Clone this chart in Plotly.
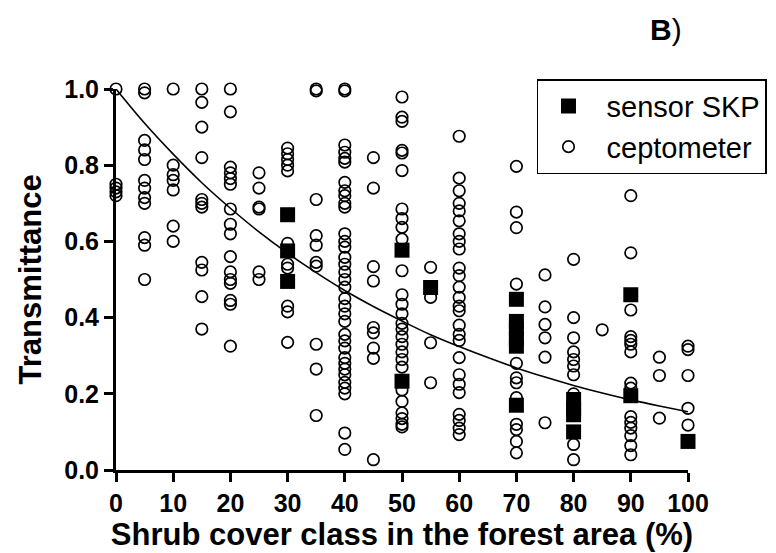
import plotly.graph_objects as go

# ---- data ----
cept_classes = [0, 5, 10, 15, 20, 25, 30, 35, 40, 45, 50, 55, 60, 70, 75, 80, 85, 90, 95, 100]
cept_values = [
    [1.0, 0.75, 0.74, 0.73, 0.72],
    [1.0, 0.99, 0.865, 0.84, 0.815, 0.76, 0.74, 0.715, 0.70, 0.61, 0.59, 0.50],
    [1.0, 0.80, 0.775, 0.76, 0.735, 0.64, 0.60],
    [1.0, 0.965, 0.90, 0.82, 0.71, 0.70, 0.69, 0.545, 0.525, 0.455, 0.37],
    [1.0, 0.94, 0.795, 0.78, 0.765, 0.75, 0.685, 0.645, 0.62, 0.56, 0.52, 0.50, 0.49, 0.445, 0.435, 0.325],
    [0.78, 0.74, 0.69, 0.685, 0.52, 0.50],
    [0.845, 0.83, 0.815, 0.80, 0.785, 0.595, 0.54, 0.53, 0.43, 0.415, 0.335],
    [1.0, 0.995, 0.71, 0.615, 0.59, 0.545, 0.535, 0.33, 0.265, 0.143],
    [1.0, 0.995, 0.853, 0.834, 0.818, 0.808, 0.755, 0.733, 0.72, 0.70, 0.69, 0.62, 0.60, 0.585,
     0.558, 0.54, 0.52, 0.50, 0.48, 0.45, 0.43, 0.41, 0.39, 0.356, 0.339, 0.32, 0.295, 0.28,
     0.265, 0.25, 0.23, 0.215, 0.20, 0.097, 0.054],
    [0.82, 0.74, 0.534, 0.496, 0.374, 0.36, 0.32, 0.293, 0.027],
    [0.979, 0.926, 0.915, 0.839, 0.832, 0.786, 0.685, 0.66, 0.637, 0.606, 0.523, 0.46, 0.435,
     0.41, 0.385, 0.37, 0.35, 0.33, 0.31, 0.29, 0.27, 0.21, 0.18, 0.15, 0.135, 0.12, 0.113],
    [0.532, 0.453, 0.334, 0.229],
    [0.876, 0.766, 0.733, 0.70, 0.68, 0.654, 0.62, 0.60, 0.58, 0.53, 0.51, 0.48, 0.453, 0.43,
     0.418, 0.38, 0.356, 0.34, 0.295, 0.25, 0.225, 0.203, 0.146, 0.13, 0.11, 0.093],
    [0.797, 0.677, 0.636, 0.488, 0.28, 0.242, 0.229, 0.19, 0.12, 0.106, 0.075, 0.045],
    [0.512, 0.428, 0.382, 0.347, 0.296, 0.124],
    [0.553, 0.40, 0.347, 0.31, 0.29, 0.273, 0.25, 0.20, 0.067, 0.027],
    [0.368],
    [0.72, 0.57, 0.42, 0.35, 0.34, 0.33, 0.31, 0.228, 0.215, 0.14, 0.125, 0.11, 0.09, 0.064, 0.04],
    [0.296, 0.248, 0.136],
    [0.325, 0.316, 0.248, 0.162, 0.118],
]

skp_classes = [30, 50, 55, 70, 80, 90, 100]
skp_values = [
    [0.67, 0.575, 0.495],
    [0.577, 0.233],
    [0.479],
    [0.448, 0.39, 0.37, 0.345, 0.325, 0.17],
    [0.185, 0.16, 0.145, 0.10],
    [0.46, 0.195],
    [0.075],
]

# fitted decay curve, every 5 %
fit_x = [0, 5, 10, 15, 20, 25, 30, 35, 40, 45, 50, 55, 60, 65, 70, 75, 80, 85, 90, 95, 100]
fit_y = [1.0, 0.91, 0.829, 0.754, 0.687, 0.625, 0.569, 0.518, 0.471, 0.429, 0.391,
         0.355, 0.324, 0.295, 0.268, 0.244, 0.222, 0.202, 0.184, 0.168, 0.153]

x_ticks = [0, 10, 20, 30, 40, 50, 60, 70, 80, 90, 100]
y_ticks = [0.0, 0.2, 0.4, 0.6, 0.8, 1.0]
y_tick_text = ["0.0", "0.2", "0.4", "0.6", "0.8", "1.0"]

# ---- build flat lists for the traces ----
cx, cy = [], []
for c, vals in zip(cept_classes, cept_values):
    cx += [c] * len(vals)
    cy += vals
sx, sy = [], []
for c, vals in zip(skp_classes, skp_values):
    sx += [c] * len(vals)
    sy += vals

FONT = "Arial, 'Liberation Sans', Helvetica, sans-serif"
NB = "\u00a0"

fig = go.Figure()
fig.add_trace(go.Scatter(
    x=cx, y=cy, mode="markers", name=NB + "ceptometer", legendrank=2,
    marker=dict(symbol="circle-open", size=11.5, color="black", line=dict(width=1.7, color="black")),
    cliponaxis=False,
))
fig.add_trace(go.Scatter(
    x=fit_x, y=fit_y, mode="lines", showlegend=False,
    line=dict(color="black", width=1.6, shape="spline"),
    cliponaxis=False,
))
fig.add_trace(go.Scatter(
    x=sx, y=sy, mode="markers", name=NB + "sensor SKP", legendrank=1,
    marker=dict(symbol="square", size=15, color="black", line=dict(width=0)),
    cliponaxis=False,
))

axis_common = dict(
    showgrid=False, zeroline=False, showline=True, linecolor="black", linewidth=3,
    ticks="outside", ticklen=9, tickwidth=3, tickcolor="black",
    tickfont=dict(family=FONT, size=25, color="black", weight="bold"),
    mirror=False, automargin=False,
)

fig.update_layout(
    width=776, height=553,
    margin=dict(l=108, r=96, t=81, b=91, autoexpand=False),
    paper_bgcolor="white", plot_bgcolor="white",
    font=dict(family=FONT, color="black"),
    xaxis=dict(
        range=[0, 100], tickvals=x_ticks, ticktext=[str(v) for v in x_ticks],
        title=dict(text="Shrub cover class in the forest area (%)",
                   font=dict(family=FONT, size=31, color="black", weight="bold"), standoff=2),
        **axis_common,
    ),
    yaxis=dict(
        range=[0, 1.0], tickvals=y_ticks, ticktext=y_tick_text,
        **axis_common,
    ),
    legend=dict(
        x=0.736, y=1.026, xanchor="left", yanchor="top",
        bgcolor="white", bordercolor="black", borderwidth=1.5,
        font=dict(family=FONT, size=29, color="black"),
        itemwidth=50, traceorder="normal",
    ),
    showlegend=True,
)
pw, ph = 776 - 108 - 96, 553 - 81 - 91
# y-axis title placed as rotated text
fig.add_annotation(
    text="<b>Transmittance</b>", x=(22 - 108) / pw, y=0.5, xref="paper", yref="paper",
    xanchor="center", yanchor="middle", textangle=-90, showarrow=False,
    font=dict(family=FONT, size=31, color="black"),
)
# "B)" panel label
fig.add_annotation(
    text="<b>B</b>)", x=(658 - 108) / pw, y=(462 - 22) / ph, xref="paper", yref="paper",
    xanchor="center", yanchor="middle", showarrow=False,
    font=dict(family=FONT, size=30, color="black"),
)

fig.write_html("out.html")
